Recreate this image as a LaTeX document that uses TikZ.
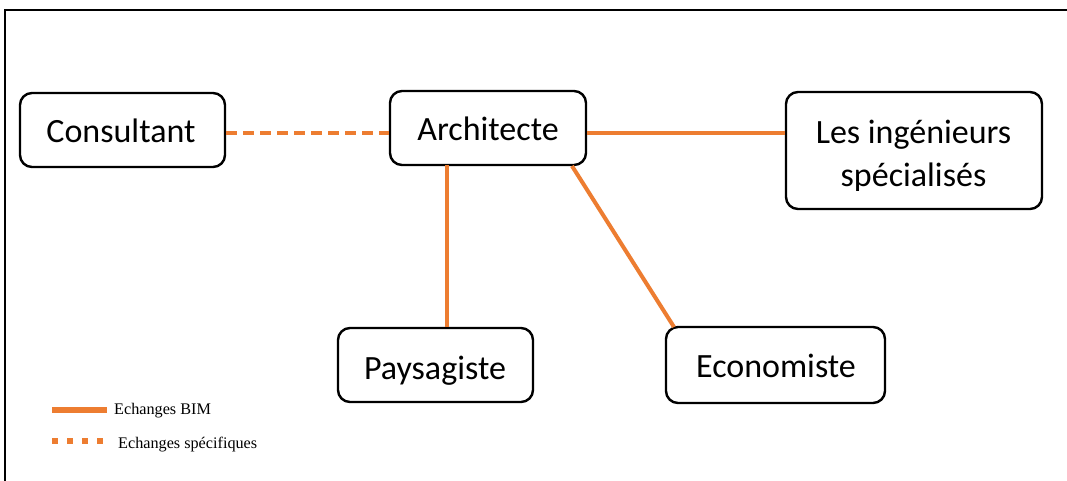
\documentclass[tikz,border=0pt]{standalone}
\usepackage{fontspec}
\setmainfont{Carlito}
\newfontfamily\legendfont{Liberation Serif}
\definecolor{bimorange}{HTML}{ED7D31}
\begin{document}
\begin{tikzpicture}[x=1pt,y=-1pt,
  actor/.style={draw=black,line width=2.4pt,rounded corners=12pt,fill=white,inner sep=0pt},
  actortext/.style={anchor=base,inner sep=0pt,font=\fontsize{34}{43}\selectfont},
  bim/.style={draw=bimorange,line width=4pt},
  spec/.style={draw=bimorange,line width=4pt,dash pattern=on 11pt off 6pt},
  legendtext/.style={anchor=west,inner sep=0pt,font=\legendfont\fontsize{16.2}{19}\selectfont}]
\useasboundingbox (0,0) rectangle (1067,480);
\fill[white] (0,0) rectangle (1067,480);
% outer frame (top and left edges)
\draw[line width=1.6pt] (5,482) -- (5,10) -- (1070,10);

% actor boxes
\node[actor,minimum width=205pt,minimum height=74pt] (cons) at (122.5,130) {};
\node[actor,minimum width=196pt,minimum height=74pt] (arch) at (488,128) {};
\node[actor,minimum width=256pt,minimum height=117pt] (ing) at (914,150.5) {};
\node[actor,minimum width=195pt,minimum height=74pt] (pays) at (435.5,365) {};
\node[actor,minimum width=219pt,minimum height=76pt] (eco) at (775.5,365) {};

% actor names
\node[actortext] (consT) at (121,142) {Consultant};
\node[actortext] (archT) at (488,140) {Architecte};
\node[actortext] (paysT) at (435,379) {Paysagiste};
\node[actortext] (ecoT)  at (776,377) {Economiste};
\begin{scope}
  \clip (790,96) rectangle (1038,190);
  \node[actortext] (ingT1) at (913.5,143) {Les ingénieurs};
  \node[actortext] (ingT2) at (913.5,186) {spécialisés};
\end{scope}

% exchanges
\draw[spec] (cons.east |- 0,133) -- (arch.west |- 0,133);
\draw[bim] (arch.east |- 0,133) -- (ing.west |- 0,133);
\draw[bim] (447,165) coordinate (pa) -- (pays.north -| pa);
\draw[bim] (572,166) coordinate (ea) -- (674,327) coordinate (eb);

% legend
\coordinate (l1a) at (52,410); \coordinate (l1b) at (107,410);
\coordinate (l2a) at (52,441); \coordinate (l2b) at (104,441);
\draw[bim,line width=6.5pt] (l1a) -- (l1b);
\draw[draw=bimorange,line width=6pt,dash pattern=on 6pt off 9pt] (l2a) -- (l2b);
\node[legendtext] (t1) at (114,411) {Echanges BIM};
\node[legendtext] (t2) at (118,445) {Echanges spécifiques};
\end{tikzpicture}
\end{document}
